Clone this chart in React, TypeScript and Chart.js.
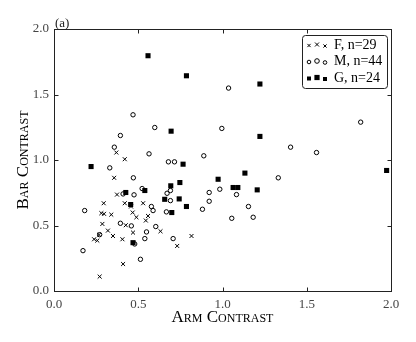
import React, { useEffect, useRef } from 'react';
import { Chart, registerables } from 'chart.js';

Chart.register(...registerables);

const FONT = "'Liberation Serif', 'DejaVu Serif', serif";

// F (crosses)
const fArm = [0.37, 0.42, 0.357, 0.374, 0.42, 0.295, 0.281, 0.297, 0.34, 0.287, 0.32, 0.35, 0.238, 0.257, 0.267, 0.406, 0.426, 0.457, 0.467, 0.489, 0.469, 0.529, 0.545, 0.558, 0.632, 0.41, 0.271, 0.731, 0.816];
const fBar = [1.057, 1.006, 0.864, 0.736, 0.67, 0.67, 0.594, 0.589, 0.583, 0.512, 0.461, 0.42, 0.395, 0.385, 0.43, 0.395, 0.502, 0.645, 0.599, 0.563, 0.446, 0.67, 0.538, 0.573, 0.456, 0.206, 0.11, 0.344, 0.42];

// M (open circles)
const mArm = [0.469, 0.394, 0.358, 0.598, 0.564, 0.331, 0.471, 0.475, 0.41, 0.523, 0.394, 0.459, 0.578, 0.588, 0.604, 0.549, 0.539, 0.479, 0.513, 0.172, 0.182, 0.271, 0.679, 0.715, 0.671, 0.691, 0.691, 0.667, 0.707, 0.889, 0.921, 0.921, 0.881, 0.984, 0.996, 1.036, 1.055, 1.083, 1.154, 1.182, 1.331, 1.404, 1.558, 1.82];
const mBar = [1.345, 1.187, 1.098, 1.248, 1.047, 0.94, 0.864, 0.734, 0.741, 0.782, 0.517, 0.497, 0.645, 0.614, 0.492, 0.451, 0.4, 0.359, 0.242, 0.308, 0.614, 0.43, 0.986, 0.986, 0.746, 0.767, 0.69, 0.604, 0.4, 1.032, 0.752, 0.685, 0.624, 0.777, 1.241, 1.549, 0.555, 0.736, 0.645, 0.563, 0.864, 1.098, 1.057, 1.289];

// G (filled squares)
const gArm = [0.558, 0.786, 1.222, 0.695, 1.222, 0.22, 0.766, 1.974, 1.133, 0.974, 0.747, 0.693, 1.063, 1.091, 1.206, 0.539, 0.426, 0.657, 0.743, 0.786, 0.455, 0.699, 0.469];
const gBar = [1.796, 1.643, 1.58, 1.22, 1.18, 0.95, 0.968, 0.92, 0.9, 0.853, 0.828, 0.803, 0.79, 0.79, 0.772, 0.767, 0.752, 0.7, 0.703, 0.645, 0.66, 0.599, 0.369];

const seriesLabels = ['F, n=29', 'M, n=44', 'G, n=24'];
const axisTicks = [0, 0.5, 1.0, 1.5, 2.0];
const panelLabel = '(a)';
const xTitle = 'Arm Contrast';
const yTitle = 'Bar Contrast';

function drawMarker(ctx: CanvasRenderingContext2D, kind: number, x: number, y: number, s: number) {
  ctx.beginPath();
  if (kind === 0) {
    ctx.lineWidth = 1;
    ctx.moveTo(x - s, y - s);
    ctx.lineTo(x + s, y + s);
    ctx.moveTo(x - s, y + s);
    ctx.lineTo(x + s, y - s);
    ctx.stroke();
  } else if (kind === 1) {
    ctx.lineWidth = 1;
    ctx.arc(x, y, s, 0, Math.PI * 2);
    ctx.stroke();
  } else {
    ctx.fillRect(x - s, y - s, 2 * s, 2 * s);
  }
}

export default function App() {
  const ref = useRef<HTMLCanvasElement>(null);
  useEffect(() => {
    if (!ref.current) return;
    const toPts = (xs: number[], ys: number[]) => xs.map((x, i) => ({ x, y: ys[i] }));

    const framePlugin = {
      id: 'frame',
      afterDraw(chart: any) {
        const { ctx, chartArea: a, scales } = chart;
        const L = Math.round(a.left) + 0.5;
        const R = Math.round(a.right) + 0.5;
        const T = Math.round(a.top) + 0.5;
        const B = Math.round(a.bottom) + 0.5;
        ctx.save();
        ctx.strokeStyle = '#222';
        ctx.lineWidth = 1;
        ctx.strokeRect(L, T, R - L, B - T);
        // inward ticks
        ctx.beginPath();
        for (const v of axisTicks) {
          const px = Math.round(scales.x.getPixelForValue(v)) + 0.5;
          ctx.moveTo(px, B); ctx.lineTo(px, B - 4);
          ctx.moveTo(px, T); ctx.lineTo(px, T + 4);
          const py = Math.round(scales.y.getPixelForValue(v)) + 0.5;
          ctx.moveTo(L, py); ctx.lineTo(L + 4, py);
          ctx.moveTo(R, py); ctx.lineTo(R - 4, py);
        }
        ctx.stroke();

        // panel label
        ctx.fillStyle = '#222';
        ctx.font = `13px ${FONT}`;
        ctx.textAlign = 'left';
        ctx.textBaseline = 'alphabetic';
        ctx.fillText(panelLabel, a.left + 1, a.top - 2);

        // legend
        const bx = 302, by = 35, bw = 85, bh = 53;
        ctx.beginPath();
        ctx.roundRect(bx + 0.5, by + 0.5, bw, bh, 3);
        ctx.fillStyle = '#fff';
        ctx.fill();
        ctx.strokeStyle = '#222';
        ctx.lineWidth = 1;
        ctx.stroke();
        const rows = [45, 61.5, 78];
        const mx = [309, 317, 325];
        const dy = [0.5, -0.5, 1];
        const sz = [[1.6, 2.0, 1.6], [1.8, 2.3, 1.8], [2.0, 2.6, 2.0]];
        ctx.fillStyle = '#000';
        ctx.strokeStyle = '#000';
        for (let r = 0; r < 3; r++) {
          for (let k = 0; k < 3; k++) {
            drawMarker(ctx, r, mx[k], rows[r] + dy[k], sz[r][k]);
          }
          ctx.fillStyle = '#000';
          ctx.font = `14px ${FONT}`;
          ctx.textBaseline = 'middle';
          ctx.fillText(seriesLabels[r], 334, rows[r]);
        }
        ctx.restore();
      },
    };

    const tickFont = { family: FONT, size: 13 };
    const titleFont = { family: FONT, size: 17, weight: 'small-caps' as any };

    const chart = new Chart(ref.current, {
      type: 'scatter',
      data: {
        datasets: [
          {
            label: seriesLabels[0],
            data: toPts(fArm, fBar),
            pointStyle: 'crossRot',
            radius: 2.8,
            borderColor: '#000',
            borderWidth: 1,
          },
          {
            label: seriesLabels[1],
            data: toPts(mArm, mBar),
            pointStyle: 'circle',
            radius: 2.2,
            borderColor: '#000',
            backgroundColor: 'rgba(0,0,0,0)',
            borderWidth: 1,
          },
          {
            label: seriesLabels[2],
            data: toPts(gArm, gBar),
            pointStyle: 'rect',
            radius: 3.6,
            borderColor: '#000',
            backgroundColor: '#000',
            borderWidth: 0,
          },
        ],
      },
      options: {
        responsive: false,
        animation: false,
        devicePixelRatio: 1,
        layout: { padding: { top: 29, right: 25, left: 0, bottom: 0 } },
        plugins: { legend: { display: false }, tooltip: { enabled: false } },
        scales: {
          x: {
            type: 'linear',
            min: 0,
            max: 2,
            afterBuildTicks: (s: any) => { s.ticks = axisTicks.map((v) => ({ value: v })); },
            afterFit: (s: any) => { s.height = 51; },
            ticks: { color: '#444', font: tickFont, padding: 6, autoSkip: false, maxRotation: 0, callback: (v: any) => Number(v).toFixed(1) },
            grid: { display: false, drawTicks: false },
            border: { display: false },
            title: { display: true, text: xTitle, color: '#000', font: titleFont, padding: { top: 0, bottom: 14 } },
          },
          y: {
            type: 'linear',
            min: 0,
            max: 2,
            afterBuildTicks: (s: any) => { s.ticks = axisTicks.map((v) => ({ value: v })); },
            afterFit: (s: any) => { s.width = 54; },
            ticks: { color: '#444', font: tickFont, padding: 5, autoSkip: false, callback: (v: any) => Number(v).toFixed(1) },
            grid: { display: false, drawTicks: false },
            border: { display: false },
            title: { display: true, text: yTitle, color: '#000', font: titleFont, padding: { top: 13, bottom: 0 } },
          },
        },
      },
      plugins: [framePlugin],
    });
    return () => chart.destroy();
  }, []);

  return (
    <div style={{ position: 'fixed', left: 0, top: 0, width: 416, height: 342, background: '#fff' }}>
      <canvas ref={ref} width={416} height={342} style={{ display: 'block' }} />
    </div>
  );
}
